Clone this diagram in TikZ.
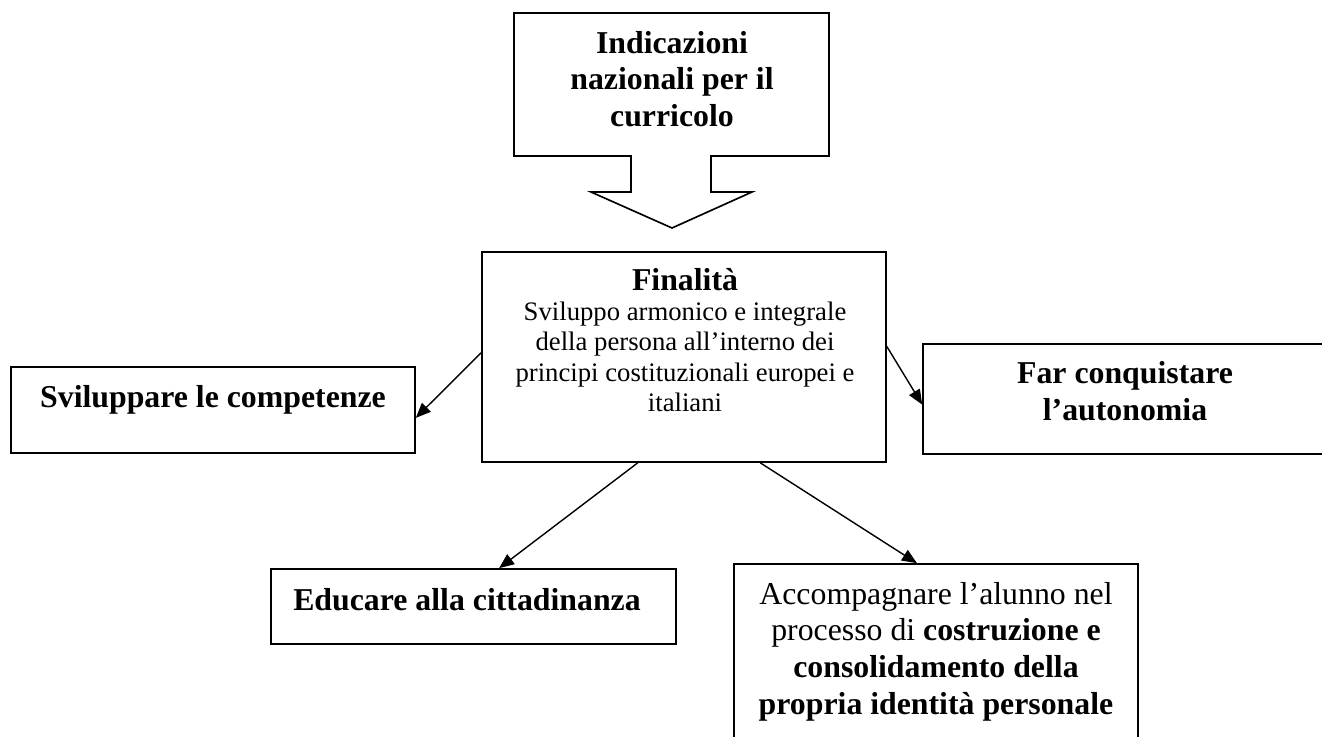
\documentclass[tikz,border=0pt]{standalone}
\usepackage{fontspec}
\setmainfont{Liberation Serif}
\usetikzlibrary{arrows.meta,calc}

\begin{document}
\begin{tikzpicture}[x=0.02cm, y=-0.02cm,
		box/.style={draw, line width=0.95pt, inner sep=0pt},
		big/.style={font=\fontsize{18.1}{20.8}\selectfont, align=center, inner sep=0pt},
		bigb/.style={font=\fontsize{18.1}{20.8}\selectfont\bfseries, align=center, inner sep=0pt},
		small/.style={font=\fontsize{15.2}{17.4}\selectfont, align=center, inner sep=0pt},
		link/.style={line width=0.8pt, -{Triangle[length=8.5pt,width=7pt]}}]
		\useasboundingbox (0,0) rectangle (1322,737);
		\clip (0,0) rectangle (1322,737);

		% Draw the block arrow on top
		\draw[line width=0.95pt] (514,13) -- (829,13) -- (829,156) -- (711,156) -- (711,192)
		-- (752,192) -- (672,228) -- (591,192) -- (631,192) -- (631,156) -- (514,156) -- cycle;
		\node[bigb] (ind) at (672,79) {Indicazioni\\nazionali per il\\curricolo};

		% Draw the central box
		\node[box, minimum width=8.08cm, minimum height=4.2cm] (fin) at (684,357) {};
		\node[bigb, anchor=base] (fintitle) at (685,290) {Finalità};
		\node[small] (finbody) at (685,357) {Sviluppo armonico e integrale\\della persona all’interno dei\\principi costituzionali europei e\\italiani};

		% Draw the boxes around it
		\node[box, minimum width=8.08cm, minimum height=1.72cm] (sv) at (213,410) {};
		\node[bigb, anchor=base] (svtxt) at (213,407) {Sviluppare le competenze};

		\node[box, minimum width=8.08cm, minimum height=2.2cm] (far) at (1125,399) {};
		\node[bigb] (fartxt) at (1125,391) {Far conquistare\\l’autonomia};

		\node[box, minimum width=8.1cm, minimum height=1.5cm] (edu) at (473.5,606.5) {};
		\node[bigb, anchor=base] (edutxt) at (467,610) {Educare alla cittadinanza};

		\node[box, minimum width=8.08cm, minimum height=3.92cm] (acc) at (936,662) {};
		\node[big] (acctxt) at (936,651.6) {Accompagnare l’alunno nel\\processo di \textbf{costruzione e}\\\textbf{consolidamento della}\\\textbf{propria identità personale}};

		% Draw the arrows from the central box
		\draw[link] ($(fin.north west)!0.48!(fin.south west)$) -- ($(sv.north east)!0.59!(sv.south east)$);
		\draw[link] ($(fin.north east)!0.45!(fin.south east)$) -- ($(far.north west)!0.55!(far.south west)$);
		\draw[link] ($(fin.south west)!0.386!(fin.south east)$) -- ($(edu.north west)!0.563!(edu.north east)$);
		\draw[link] ($(fin.south west)!0.688!(fin.south east)$) -- ($(acc.north west)!0.453!(acc.north east)$);

	\end{tikzpicture}
\end{document}
